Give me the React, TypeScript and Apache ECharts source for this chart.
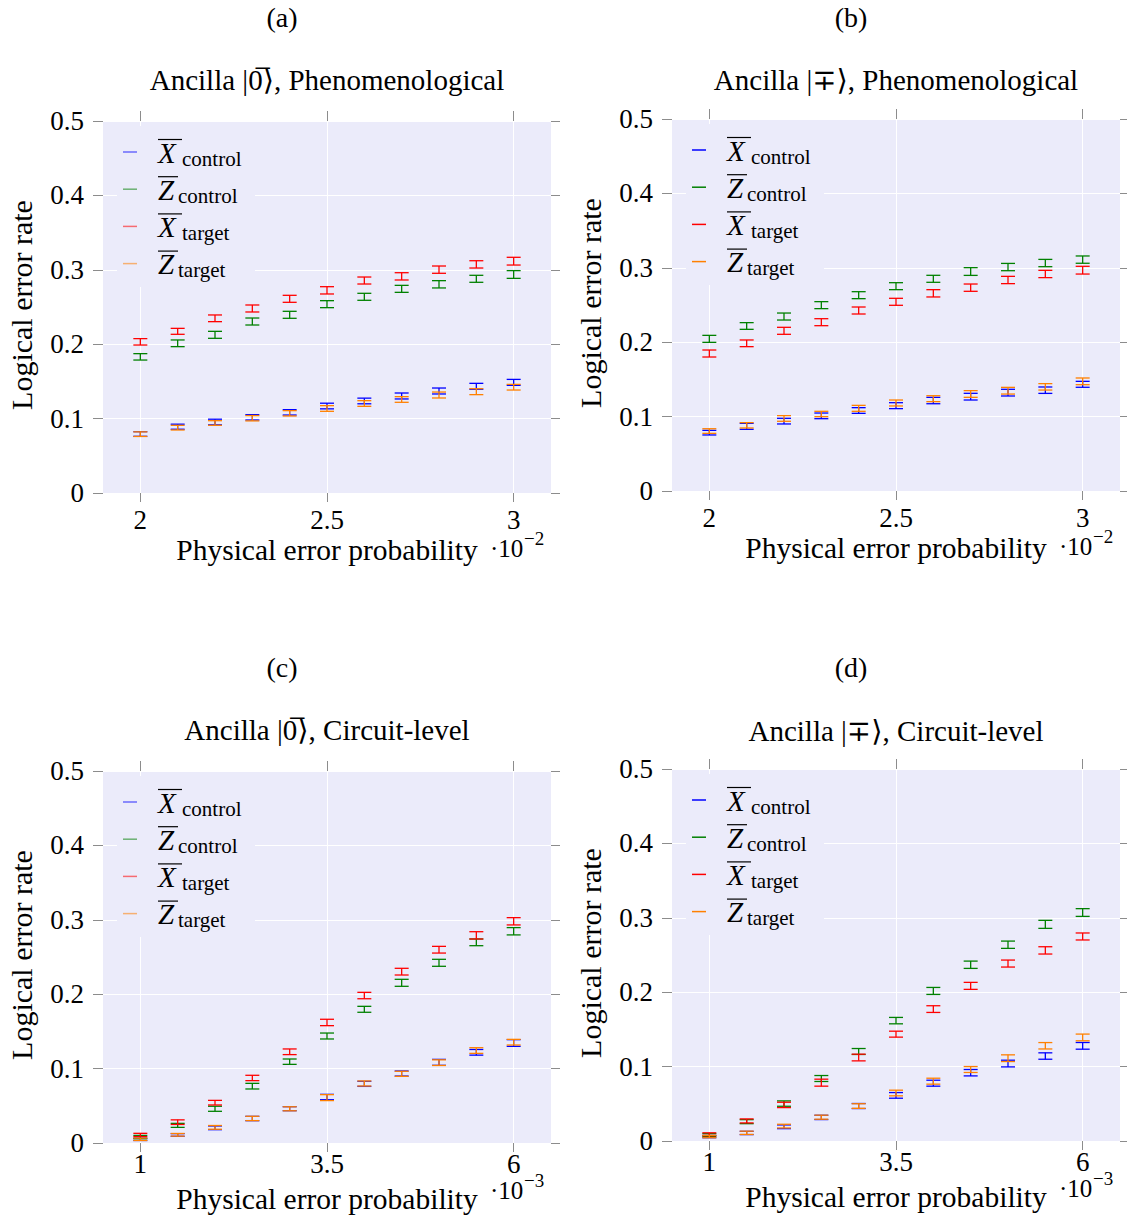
import React, { useEffect, useRef } from "react";
import * as echarts from "echarts";

// ---------- data ----------
const phenoP = [2.0, 2.1, 2.2, 2.3, 2.4, 2.5, 2.6, 2.7, 2.8, 2.9, 3.0]; // x 1e-2
const circP = [1, 1.5, 2, 2.5, 3, 3.5, 4, 4.5, 5, 5.5, 6]; // x 1e-3

// (a) Ancilla |0>, Phenomenological
const aXc = [0.0793, 0.0891, 0.0954, 0.1017, 0.1084, 0.1169, 0.1237, 0.1304, 0.1371, 0.1434, 0.1487];
const aXcErr = [0.0031, 0.0034, 0.0038, 0.0036, 0.0036, 0.0038, 0.0038, 0.004, 0.004, 0.004, 0.004];
const aZc = [0.183, 0.2012, 0.2126, 0.2305, 0.2395, 0.2538, 0.2637, 0.2744, 0.2805, 0.2879, 0.2937];
const aZcErr = [0.0043, 0.0045, 0.0047, 0.0047, 0.0047, 0.0047, 0.0047, 0.0047, 0.0049, 0.0047, 0.0052];
const aXt = [0.2032, 0.2173, 0.2348, 0.248, 0.261, 0.2724, 0.2856, 0.2912, 0.3002, 0.3073, 0.3116];
const aXtErr = [0.0043, 0.004, 0.0045, 0.0047, 0.0047, 0.0049, 0.0047, 0.0049, 0.0049, 0.0049, 0.0052];
const aZt = [0.0791, 0.0878, 0.0941, 0.1005, 0.1071, 0.1136, 0.1203, 0.1257, 0.1317, 0.1362, 0.1422];
const aZtErr = [0.0031, 0.0031, 0.0031, 0.0036, 0.0036, 0.0038, 0.0038, 0.0038, 0.004, 0.004, 0.0038];

// (b) Ancilla |-+>, Phenomenological
const bXc = [0.0784, 0.0869, 0.0939, 0.101, 0.1082, 0.1147, 0.1216, 0.1268, 0.1322, 0.1355, 0.1434];
const bXcErr = [0.0031, 0.004, 0.0038, 0.0038, 0.0038, 0.004, 0.0043, 0.0045, 0.0045, 0.0043, 0.004];
const bZc = [0.2045, 0.2218, 0.2345, 0.2498, 0.2632, 0.2753, 0.2852, 0.295, 0.301, 0.3064, 0.311];
const bZcErr = [0.0047, 0.0045, 0.0047, 0.0047, 0.0047, 0.0047, 0.0047, 0.0052, 0.0049, 0.0049, 0.0049];
const bXt = [0.1848, 0.1985, 0.2153, 0.2269, 0.2426, 0.2543, 0.2657, 0.2733, 0.2836, 0.2917, 0.2968];
const bXtErr = [0.0047, 0.0045, 0.0047, 0.0047, 0.0047, 0.0047, 0.0049, 0.0049, 0.0049, 0.0049, 0.0052];
const bZt = [0.0806, 0.0883, 0.0975, 0.1035, 0.1111, 0.1183, 0.1241, 0.1304, 0.1348, 0.14, 0.1474];
const bZtErr = [0.0031, 0.0036, 0.0038, 0.0036, 0.004, 0.004, 0.004, 0.0045, 0.0045, 0.0043, 0.0045];

// (c) Ancilla |0>, Circuit-level
const cXc = [0.005, 0.0108, 0.0204, 0.0329, 0.0461, 0.0618, 0.0795, 0.0934, 0.1084, 0.1219, 0.1344];
const cXcErr = [0.0016, 0.0018, 0.0025, 0.0029, 0.0027, 0.0036, 0.0034, 0.0034, 0.004, 0.0038, 0.0045];
const cZc = [0.008, 0.0237, 0.046, 0.0764, 0.1093, 0.1438, 0.1797, 0.2153, 0.2422, 0.2697, 0.2846];
const cZcErr = [0.0022, 0.0027, 0.0034, 0.0038, 0.0036, 0.004, 0.004, 0.0047, 0.0047, 0.0045, 0.0049];
const cXt = [0.0108, 0.028, 0.0542, 0.0874, 0.1226, 0.162, 0.1982, 0.2303, 0.2598, 0.2791, 0.298];
const cXtErr = [0.0022, 0.0031, 0.0031, 0.0036, 0.0038, 0.0043, 0.0043, 0.0045, 0.0045, 0.0049, 0.0049];
const cZt = [0.005, 0.011, 0.021, 0.033, 0.046, 0.061, 0.08, 0.093, 0.108, 0.1243, 0.1355];
const cZtErr = [0.0016, 0.0018, 0.0025, 0.0029, 0.0027, 0.004, 0.0034, 0.0034, 0.0038, 0.0038, 0.0038];

// (d) Ancilla |-+>, Circuit-level
const dXc = [0.006, 0.0108, 0.0191, 0.0317, 0.047, 0.0613, 0.0777, 0.0918, 0.1041, 0.1142, 0.1279];
const dXcErr = [0.0016, 0.0022, 0.0025, 0.0029, 0.0034, 0.0038, 0.004, 0.0043, 0.0045, 0.0043, 0.0045];
const dZc = [0.008, 0.026, 0.0503, 0.084, 0.1203, 0.1618, 0.2017, 0.2369, 0.2638, 0.2912, 0.3071];
const dZcErr = [0.002, 0.0027, 0.0036, 0.004, 0.004, 0.0043, 0.0047, 0.0049, 0.0049, 0.0054, 0.0052];
const dXt = [0.009, 0.027, 0.0485, 0.0784, 0.1122, 0.1436, 0.1773, 0.2085, 0.2385, 0.2562, 0.2749];
const dXtErr = [0.002, 0.0027, 0.0036, 0.0047, 0.0045, 0.004, 0.0045, 0.0047, 0.0047, 0.0049, 0.0047];
const dZt = [0.006, 0.011, 0.02, 0.032, 0.047, 0.0645, 0.0804, 0.0961, 0.1113, 0.128, 0.1392];
const dZtErr = [0.0016, 0.0022, 0.0025, 0.0027, 0.0031, 0.0038, 0.004, 0.004, 0.0045, 0.0043, 0.0045];

const phenoTicks = [2, 2.5, 3];
const circTicks = [1, 3.5, 6];

const seriesLetters = ["X", "Z", "X", "Z"];
const seriesSubs = ["control", "control", "target", "target"];

// ---------- styles ----------
const COLORS = ["#0000ff", "#008000", "#ff0000", "#ff8000"];
const BG = "#ebebfa";
const FONT = '"Liberation Serif", "DejaVu Serif", serif';
const TICK = "#8c8c8c";

const panels = [
  {
    left: 103, top: 121, w: 448, h: 372, xmin: 1.9, xmax: 3.1, xticks: phenoTicks,
    exp: "\u22122", label: "(a)", labelX: 282, labelY: 17,
    title: "Ancilla |0\u0305\u27E9, Phenomenological", titleY: 80,
    xLabOff: 17, nameOff: 57, expY: 548, legFade: true,
    sets: [[aXc, aXcErr], [aZc, aZcErr], [aXt, aXtErr], [aZt, aZtErr]], xs: phenoP,
  },
  {
    left: 672, top: 119, w: 448, h: 372, xmin: 1.9, xmax: 3.1, xticks: phenoTicks,
    exp: "\u22122", label: "(b)", labelX: 851, labelY: 17,
    title: "Ancilla |\u2213\u27E9, Phenomenological", titleY: 80,
    xLabOff: 17, nameOff: 57, expY: 546, legFade: false,
    sets: [[bXc, bXcErr], [bZc, bZcErr], [bXt, bXtErr], [bZt, bZtErr]], xs: phenoP,
  },
  {
    left: 103, top: 771, w: 448, h: 372, xmin: 0.5, xmax: 6.5, xticks: circTicks,
    exp: "\u22123", label: "(c)", labelX: 282, labelY: 667,
    title: "Ancilla |0\u0305\u27E9, Circuit-level", titleY: 730,
    xLabOff: 11, nameOff: 56, expY: 1190, legFade: true,
    sets: [[cXc, cXcErr], [cZc, cZcErr], [cXt, cXtErr], [cZt, cZtErr]], xs: circP,
  },
  {
    left: 672, top: 769, w: 448, h: 372, xmin: 0.5, xmax: 6.5, xticks: circTicks,
    exp: "\u22123", label: "(d)", labelX: 851, labelY: 667,
    title: "Ancilla |\u2213\u27E9, Circuit-level", titleY: 731,
    xLabOff: 11, nameOff: 56, expY: 1188, legFade: false,
    sets: [[dXc, dXcErr], [dZc, dZcErr], [dXt, dXtErr], [dZt, dZtErr]], xs: circP,
  },
];

function buildOption() {
  const grid: any[] = [];
  const xAxis: any[] = [];
  const yAxis: any[] = [];
  const series: any[] = [];
  const graphic: any[] = [];

  panels.forEach((p, i) => {
    grid.push({
      left: p.left, top: p.top, width: p.w, height: p.h,
      show: true, backgroundColor: BG, borderWidth: 0,
    });
    const xBase = {
      type: "value", gridIndex: i, min: p.xmin, max: p.xmax,
      axisLine: { show: false, onZero: false },
    };
    xAxis.push({
      ...xBase, position: "bottom",
      axisTick: { show: true, length: 9, lineStyle: { color: TICK }, customValues: p.xticks },
      axisLabel: {
        show: true, customValues: p.xticks, margin: p.xLabOff,
        fontFamily: FONT, fontSize: 27, lineHeight: 20, color: "#000",
        formatter: (v: number) => String(v),
      },
      splitLine: { show: true, lineStyle: { color: "#ffffff", width: 1 } },
    });
    xAxis.push({
      ...xBase, position: "top",
      axisTick: { show: true, length: 10, lineStyle: { color: TICK }, customValues: p.xticks },
      axisLabel: { show: false },
      splitLine: { show: false },
    });
    const yBase = {
      type: "value", gridIndex: i, min: 0, max: 0.5, interval: 0.1,
      axisLine: { show: false, onZero: false },
    };
    yAxis.push({
      ...yBase, position: "left",
      axisTick: { show: true, length: 10, lineStyle: { color: TICK } },
      axisLabel: {
        show: true, margin: 19, fontFamily: FONT, fontSize: 27, color: "#000",
        formatter: (v: number) => (v === 0 ? "0" : v.toFixed(1)),
      },
      splitLine: { show: true, lineStyle: { color: "#ffffff", width: 1 } },
    });
    yAxis.push({
      ...yBase, position: "right",
      axisTick: { show: true, length: 9, lineStyle: { color: TICK } },
      axisLabel: { show: false },
      splitLine: { show: false },
    });

    p.sets.forEach(([vals, errs], k) => {
      const color = COLORS[k];
      series.push({
        type: "custom",
        name: `${seriesLetters[k]}_${seriesSubs[k]} ${p.label}`,
        xAxisIndex: 2 * i,
        yAxisIndex: 2 * i,
        z: 2,
        encode: { x: 0, y: 1 },
        data: p.xs.map((x, j) => [x, vals[j], errs[j]]),
        renderItem: (params: any, api: any) => {
          const x = api.value(0);
          const y = api.value(1);
          const e = api.value(2);
          const t = api.coord([x, y + e]);
          const b = api.coord([x, y - e]);
          const hw = 7;
          const style = { stroke: color, lineWidth: 1.3, fill: null };
          return {
            type: "group",
            children: [
              { type: "line", shape: { x1: t[0] - hw, y1: t[1], x2: t[0] + hw, y2: t[1] }, style },
              { type: "line", shape: { x1: b[0] - hw, y1: b[1], x2: b[0] + hw, y2: b[1] }, style },
              { type: "line", shape: { x1: t[0], y1: t[1], x2: b[0], y2: b[1] }, style },
            ],
          };
        },
      });
    });

    // subfigure label and title
    graphic.push({
      type: "text", x: p.labelX, y: p.labelY, z: 5,
      style: { text: p.label, fontFamily: FONT, fontSize: 28, fill: "#000", align: "center", verticalAlign: "middle" },
    });
    graphic.push({
      type: "text", x: p.left + p.w / 2, y: p.titleY, z: 5,
      style: { text: p.title, fontFamily: FONT, fontSize: 29, fill: "#000", align: "center", verticalAlign: "middle" },
    });
    // axis names
    graphic.push({
      type: "text", x: p.left + p.w / 2, y: p.top + p.h + p.nameOff, z: 5,
      style: { text: "Physical error probability", fontFamily: FONT, fontSize: 29.5, lineHeight: 26, fill: "#000", align: "center", verticalAlign: "middle" },
    });
    graphic.push({
      type: "text", x: p.left - 82, y: p.top + p.h / 2 - 2, rotation: Math.PI / 2, z: 5,
      style: { text: "Logical error rate", fontFamily: FONT, fontSize: 30, fill: "#000", align: "center", verticalAlign: "middle" },
    });
    // scale exponent
    graphic.push({
      type: "text", x: p.left + 387, y: p.expY, z: 5,
      style: { text: "\u00B710", fontFamily: FONT, fontSize: 25, lineHeight: 17, fill: "#000", align: "left", verticalAlign: "middle" },
    });
    graphic.push({
      type: "text", x: p.left + 421, y: p.expY - 10, z: 5,
      style: { text: p.exp, fontFamily: FONT, fontSize: 19, lineHeight: 13, fill: "#000", align: "left", verticalAlign: "middle" },
    });

    // legend
    const lx = p.left + 20;
    const ly = p.top + 31;
    graphic.push({
      type: "rect", z: 1, silent: true,
      shape: { x: p.left + 14, y: p.top + 5, width: 138, height: 161 },
      style: { fill: BG },
    });
    for (let k = 0; k < 4; k++) {
      const yk = ly + k * 37.2;
      const isX = seriesLetters[k] === "X";
      graphic.push({
        type: "line", z: 3,
        shape: { x1: lx, y1: yk, x2: lx + 14, y2: yk },
        style: { stroke: COLORS[k], lineWidth: 1.5, opacity: p.legFade ? 0.55 : 1 },
      });
      graphic.push({
        type: "text", x: lx + 35, y: yk + 0.5, z: 3,
        style: { text: seriesLetters[k], fontFamily: FONT, fontStyle: "italic", fontSize: 29, fill: "#000", align: "left", verticalAlign: "middle" },
      });
      graphic.push({
        type: "line", z: 3,
        shape: { x1: lx + 35, y1: yk - 12.5, x2: lx + (isX ? 59 : 55), y2: yk - 12.5 },
        style: { stroke: "#000", lineWidth: 1.2 },
      });
      graphic.push({
        type: "text", x: lx + (isX ? 59 : 55), y: yk + 6.6, z: 3,
        style: { text: seriesSubs[k], fontFamily: FONT, fontSize: 21, fill: "#000", align: "left", verticalAlign: "middle" },
      });
    }
  });

  return {
    animation: false,
    backgroundColor: "#ffffff",
    grid,
    xAxis,
    yAxis,
    series,
    graphic,
  };
}

export default function App() {
  const ref = useRef<HTMLDivElement>(null);
  useEffect(() => {
    if (!ref.current) return;
    const chart = echarts.init(ref.current, null, { renderer: "svg" });
    chart.setOption(buildOption() as any);
    return () => chart.dispose();
  }, []);
  return (
    <div
      ref={ref}
      style={{ position: "absolute", left: 0, top: 0, width: 1127, height: 1217 }}
    />
  );
}
